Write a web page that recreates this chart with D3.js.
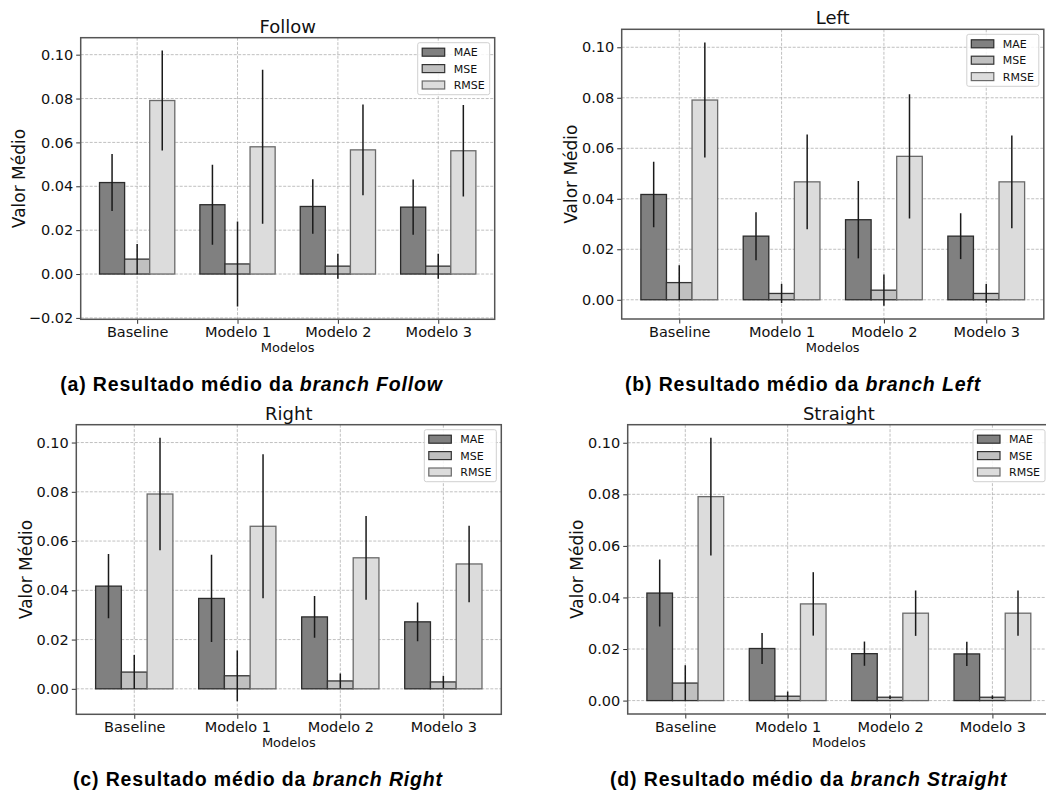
<!DOCTYPE html>
<html>
<head>
<meta charset="utf-8">
<script src="https://cdn.jsdelivr.net/npm/d3@7"></script>
<style>
  body { margin: 0; background: #fff; }
  svg { display: block; }
</style>
</head>
<body>
<svg id="fig" width="1046" height="792"></svg>
<script>
// categories and series
const models = ['Baseline', 'Modelo 1', 'Modelo 2', 'Modelo 3'];
const metrics = ['MAE', 'MSE', 'RMSE'];
const branches = ['Follow', 'Left', 'Right', 'Straight'];
const letters = ['a', 'b', 'c', 'd'];

// mean values per branch (MAE / MSE / RMSE), one entry per model
const followMae = [0.0417, 0.0316, 0.0308, 0.0305];
const followMse = [0.0068, 0.0046, 0.0036, 0.0036];
const followRmse = [0.0791, 0.0580, 0.0566, 0.0562];
const followMaeErr = [0.0130, 0.0182, 0.0124, 0.0126];
const followMseErr = [0.0069, 0.0194, 0.0057, 0.0057];
const followRmseErr = [0.0228, 0.0351, 0.0207, 0.0209];

const leftMae = [0.0417, 0.0252, 0.0317, 0.0252];
const leftMse = [0.0068, 0.0025, 0.0038, 0.0025];
const leftRmse = [0.0791, 0.0467, 0.0568, 0.0467];
const leftMaeErr = [0.0130, 0.0095, 0.0153, 0.0091];
const leftMseErr = [0.0069, 0.0038, 0.0062, 0.0037];
const leftRmseErr = [0.0228, 0.0188, 0.0246, 0.0184];

const rightMae = [0.0417, 0.0367, 0.0292, 0.0272];
const rightMse = [0.0068, 0.0053, 0.0032, 0.0028];
const rightRmse = [0.0791, 0.0660, 0.0532, 0.0507];
const rightMaeErr = [0.0130, 0.0177, 0.0085, 0.0079];
const rightMseErr = [0.0069, 0.0103, 0.0030, 0.0025];
const rightRmseErr = [0.0228, 0.0292, 0.0170, 0.0155];

const straightMae = [0.0417, 0.0202, 0.0182, 0.0181];
const straightMse = [0.0068, 0.0017, 0.0013, 0.0013];
const straightRmse = [0.0791, 0.0375, 0.0339, 0.0339];
const straightMaeErr = [0.0130, 0.0060, 0.0047, 0.0047];
const straightMseErr = [0.0069, 0.0018, 0.0007, 0.0007];
const straightRmseErr = [0.0228, 0.0123, 0.0088, 0.0088];

const means = [
  [followMae, followMse, followRmse],
  [leftMae, leftMse, leftRmse],
  [rightMae, rightMse, rightRmse],
  [straightMae, straightMse, straightRmse]
];
const errs = [
  [followMaeErr, followMseErr, followRmseErr],
  [leftMaeErr, leftMseErr, leftRmseErr],
  [rightMaeErr, rightMseErr, rightRmseErr],
  [straightMaeErr, straightMseErr, straightRmseErr]
];

// layout of each axes box (left, right, top, bottom) and its caption
const panels = [
  { x0: 80.7, x1: 494.7, y0: 37.7, y1: 319.3, capX: 251.5, capY: 391 },
  { x0: 621.7, x1: 1043.8, y0: 29.3, y1: 319, capX: 803, capY: 391 },
  { x0: 76.3, x1: 501.3, y0: 424.7, y1: 714.3, capX: 258, capY: 786 },
  { x0: 627.7, x1: 1050, y0: 424.7, y1: 714, capX: 808.7, capY: 786 }
];

const fills = ['#808080', '#c0c0c0', '#dcdcdc'];
const edges = ['#2b2b2b', '#333333', '#6a6a6a'];
const barW = 0.25;
const font = 'DejaVu Sans, sans-serif';

const svg = d3.select('#fig');

panels.forEach((p, k) => {
  const g = svg.append('g');

  // matplotlib-like autoscale: data range incl. error bars plus 5% margin
  let lo = 0, hi = 0;
  metrics.forEach((m, j) => {
    means[k][j].forEach((v, i) => {
      lo = Math.min(lo, v - errs[k][j][i]);
      hi = Math.max(hi, v + errs[k][j][i]);
    });
  });
  const pad = (hi - lo) * 0.05;

  const x = d3.scaleLinear()
    .domain([-0.5 - 0.0625, models.length - 0.5 + 0.0625])
    .range([p.x0, p.x1]);
  const y = d3.scaleLinear()
    .domain([lo - pad, hi + pad])
    .range([p.y1, p.y0]);

  const clipId = 'clip' + k;
  svg.append('clipPath').attr('id', clipId)
    .append('rect')
    .attr('x', p.x0).attr('y', p.y0)
    .attr('width', p.x1 - p.x0).attr('height', p.y1 - p.y0);

  const plot = g.append('g').attr('clip-path', 'url(#' + clipId + ')');

  // grid (behind bars)
  const yTicks = y.ticks(6);
  plot.selectAll('.hgrid').data(yTicks).enter().append('line')
    .attr('x1', p.x0).attr('x2', p.x1)
    .attr('y1', (d) => y(d)).attr('y2', (d) => y(d))
    .style('stroke', '#b0b0b0').style('stroke-width', 0.8)
    .style('stroke-dasharray', '3,1.5');
  plot.selectAll('.vgrid').data(models).enter().append('line')
    .attr('x1', (d, i) => x(i)).attr('x2', (d, i) => x(i))
    .attr('y1', p.y0).attr('y2', p.y1)
    .style('stroke', '#b0b0b0').style('stroke-width', 0.8)
    .style('stroke-dasharray', '3,1.5');

  // bars
  metrics.forEach((m, j) => {
    const off = (j - 1) * barW;
    plot.selectAll('.bar' + j).data(means[k][j]).enter().append('rect')
      .attr('x', (d, i) => x(i + off - barW / 2))
      .attr('width', x(barW) - x(0))
      .attr('y', (d) => y(Math.max(0, d)))
      .attr('height', (d) => Math.abs(y(d) - y(0)))
      .style('fill', fills[j])
      .style('stroke', edges[j])
      .style('stroke-width', 1.3);
  });

  // error bars (no caps)
  metrics.forEach((m, j) => {
    const off = (j - 1) * barW;
    plot.selectAll('.err' + j).data(means[k][j]).enter().append('line')
      .attr('x1', (d, i) => x(i + off)).attr('x2', (d, i) => x(i + off))
      .attr('y1', (d, i) => y(d - errs[k][j][i]))
      .attr('y2', (d, i) => y(d + errs[k][j][i]))
      .style('stroke', '#1a1a1a').style('stroke-width', 1.5);
  });

  // axes
  const xAxis = d3.axisBottom(x)
    .tickValues(d3.range(models.length))
    .tickFormat((i) => models[i])
    .tickSize(4.5).tickPadding(3);
  const gx = g.append('g').attr('transform', 'translate(0,' + p.y1 + ')').call(xAxis);
  gx.select('.domain').remove();
  gx.selectAll('text').style('font', '14.5px ' + font).style('fill', '#111');
  gx.selectAll('line').style('stroke', '#333');

  const yAxis = d3.axisLeft(y)
    .tickValues(yTicks)
    .tickFormat(d3.format('.2f'))
    .tickSize(4.5).tickPadding(3);
  const gy = g.append('g').attr('transform', 'translate(' + p.x0 + ',0)').call(yAxis);
  gy.select('.domain').remove();
  gy.selectAll('text').style('font', '14.5px ' + font).style('fill', '#111');
  gy.selectAll('line').style('stroke', '#333');

  // frame
  g.append('rect')
    .attr('x', p.x0).attr('y', p.y0)
    .attr('width', p.x1 - p.x0).attr('height', p.y1 - p.y0)
    .style('fill', 'none').style('stroke', '#555').style('stroke-width', 1.5);

  // title and axis labels
  g.append('text')
    .attr('x', (p.x0 + p.x1) / 2).attr('y', p.y0 - 5)
    .attr('text-anchor', 'middle')
    .style('font', '18px ' + font).style('fill', '#111')
    .text(branches[k]);
  g.append('text')
    .attr('x', (p.x0 + p.x1) / 2).attr('y', p.y1 + 33)
    .attr('text-anchor', 'middle')
    .style('font', '13px ' + font).style('fill', '#111')
    .text('Modelos');
  const ylabX = p.x0 - (k === 0 ? 55.5 : 44.6);
  g.append('text')
    .attr('transform', 'translate(' + ylabX + ',' + (p.y0 + p.y1) / 2 + ') rotate(-90)')
    .attr('text-anchor', 'middle')
    .style('font', '17px ' + font).style('fill', '#111')
    .text('Valor Médio');

  // legend
  const lw = 72, lh = 52;
  const lx = p.x1 - 5 - lw, ly = p.y0 + 5;
  const leg = g.append('g');
  leg.append('rect')
    .attr('x', lx).attr('y', ly).attr('width', lw).attr('height', lh)
    .attr('rx', 2)
    .style('fill', 'rgba(255,255,255,0.85)').style('stroke', '#d0d0d0').style('stroke-width', 1);
  metrics.forEach((m, j) => {
    const cy = ly + 9.5 + j * 16.4;
    leg.append('rect')
      .attr('x', lx + 4.5).attr('y', cy - 4)
      .attr('width', 22.5).attr('height', 8)
      .style('fill', fills[j]).style('stroke', edges[j]).style('stroke-width', 1.2);
    leg.append('text')
      .attr('x', lx + 36).attr('y', cy + 4)
      .style('font', '11px ' + font).style('fill', '#111')
      .text(m);
  });

  // caption
  const cap = svg.append('text')
    .attr('x', p.capX).attr('y', p.capY)
    .attr('text-anchor', 'middle')
    .style('font-family', 'Liberation Sans, Arial, sans-serif')
    .style('font-weight', 'bold')
    .style('font-size', '19.5px')
    .style('letter-spacing', '0.85px')
    .style('fill', '#000');
  cap.append('tspan').text('(' + letters[k] + ') Resultado médio da ');
  cap.append('tspan').style('font-style', 'italic').text('branch ' + branches[k]);
});
</script>
</body>
</html>
